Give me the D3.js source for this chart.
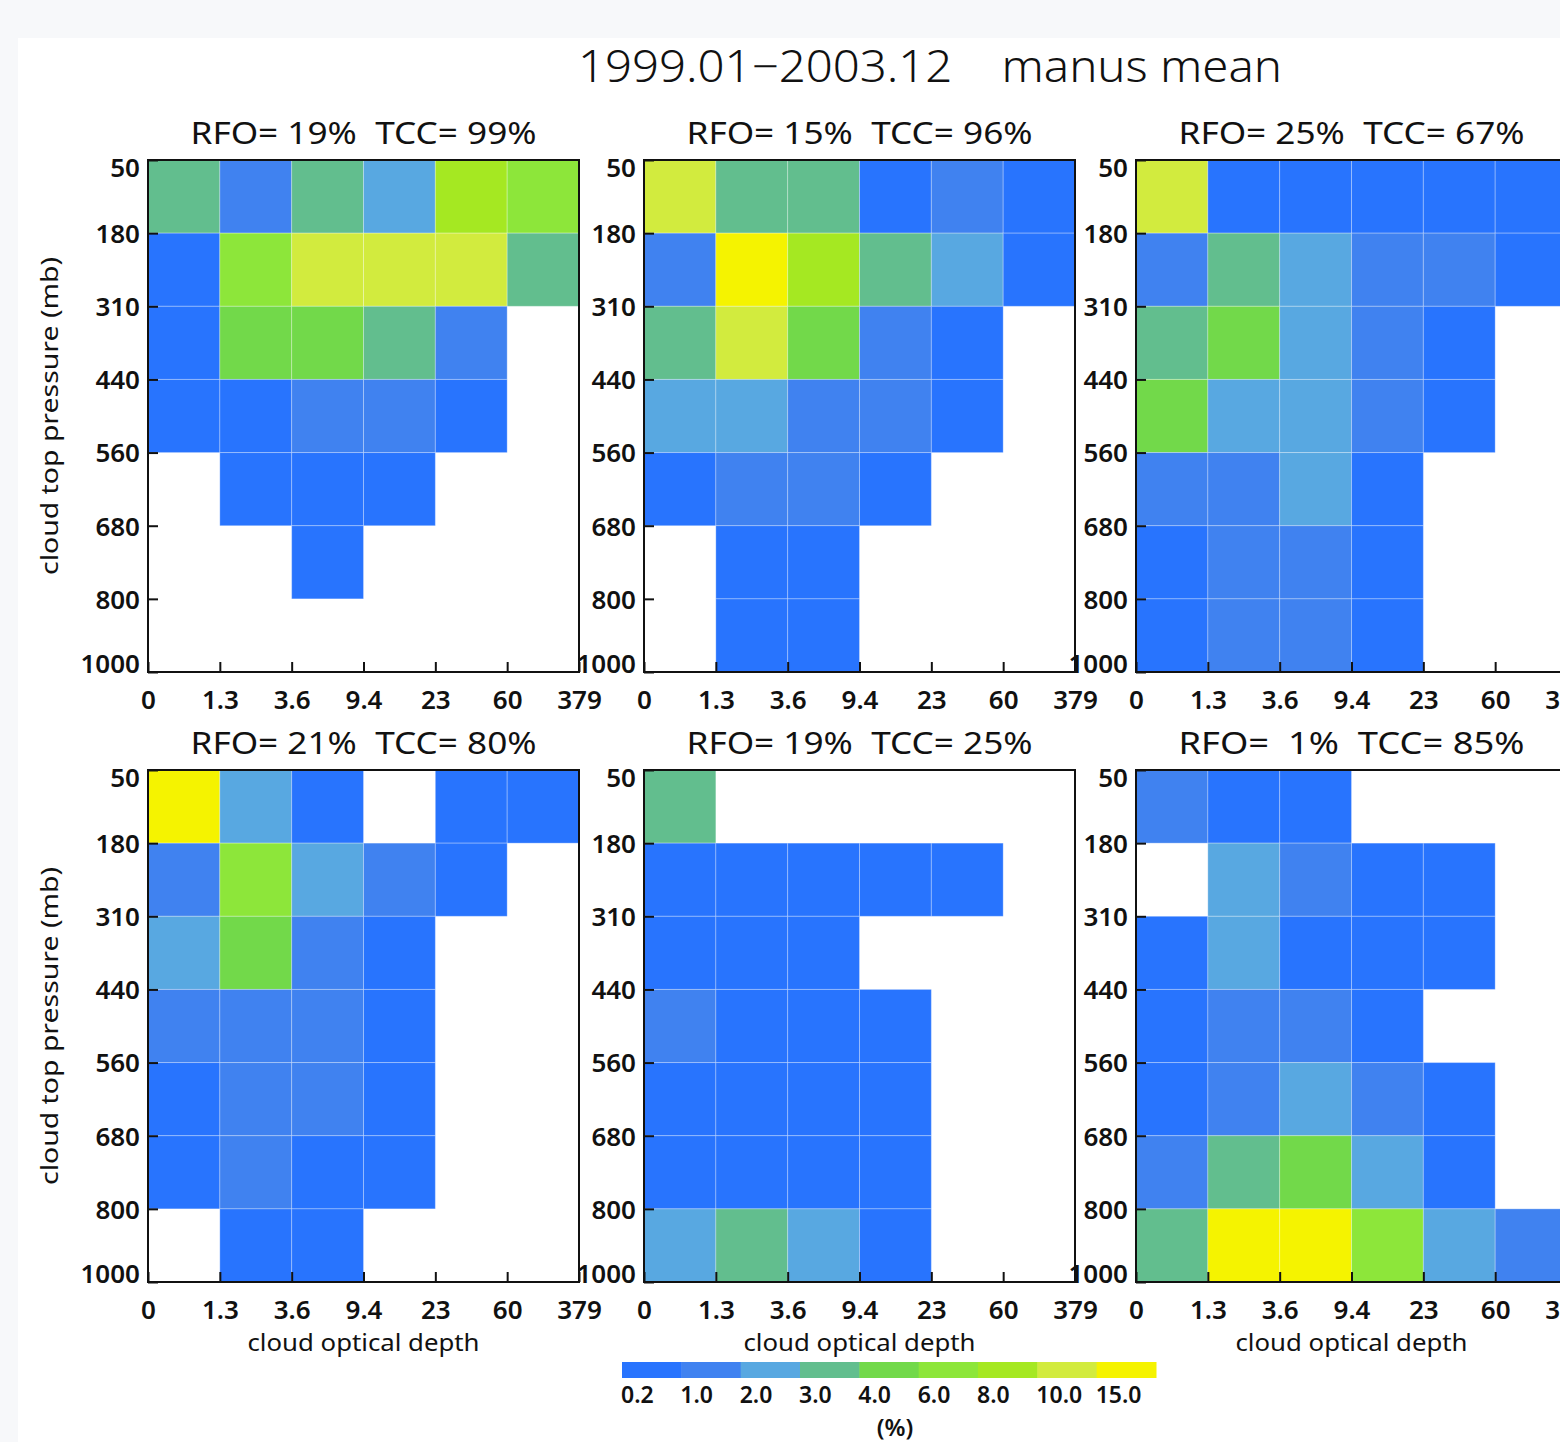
<!DOCTYPE html>
<html>
<head>
<meta charset="utf-8">
<script src="https://cdn.jsdelivr.net/npm/d3@7"></script>
<style>
  html, body { margin: 0; padding: 0; background: #f7f8fa; }
  svg { display: block; }
  text { font-family: "Noto Sans", "DejaVu Sans", sans-serif; fill: #111; white-space: pre; }
</style>
</head>
<body>
<svg id="chart" width="1560" height="1442"></svg>
<script>
// ---------------- data ----------------
const mainTitle = "1999.01\u22122003.12    manus mean";
const xTickLabels = ["0", "1.3", "3.6", "9.4", "23", "60", "379"];
const yTickLabels = ["50", "180", "310", "440", "560", "680", "800", "1000"];
const rfo = [19, 15, 25, 21, 19, 1];
const tcc = [99, 96, 67, 80, 25, 85];

// rows: 50-180, 180-310, 310-440, 440-560, 560-680, 680-800, 800-1000
// cols: 0-1.3, 1.3-3.6, 3.6-9.4, 9.4-23, 23-60, 60-379  (values in %)
const panel1 = [
  [3.4, 1.6, 3.5, 2.4, 9.1, 7.2],
  [0.7, 7.4, 12.5, 11.8, 11.2, 3.3],
  [0.6, 5.1, 5.4, 3.2, 1.3, null],
  [0.5, 0.8, 1.4, 1.2, 0.6, null],
  [null, 0.4, 0.6, 0.5, null, null],
  [null, null, 0.3, null, null, null],
  [null, null, null, null, null, null]
];
const panel2 = [
  [11.5, 3.6, 3.4, 0.8, 1.5, 0.6],
  [1.7, 17.2, 9.3, 3.5, 2.6, 0.5],
  [3.3, 12.1, 5.0, 1.6, 0.7, null],
  [2.4, 2.2, 1.5, 1.3, 0.6, null],
  [0.8, 1.2, 1.4, 0.5, null, null],
  [null, 0.6, 0.7, null, null, null],
  [null, 0.5, 0.4, null, null, null]
];
const panel3 = [
  [12.3, 0.7, 0.6, 0.5, 0.6, 0.4],
  [1.5, 3.4, 2.3, 1.4, 1.2, 0.5],
  [3.6, 5.3, 2.5, 1.3, 0.7, null],
  [4.8, 2.7, 2.6, 1.5, 0.8, null],
  [1.6, 1.3, 2.2, 0.6, null, null],
  [0.8, 1.4, 1.2, 0.5, null, null],
  [0.7, 1.3, 1.1, 0.4, null, null]
];
const panel4 = [
  [18.4, 2.5, 0.6, null, 0.4, 0.3],
  [1.4, 7.1, 2.4, 1.2, 0.5, null],
  [2.6, 4.9, 1.6, 0.8, null, null],
  [1.3, 1.5, 1.4, 0.7, null, null],
  [0.6, 1.2, 1.3, 0.5, null, null],
  [0.8, 1.1, 0.6, 0.4, null, null],
  [null, 0.5, 0.7, null, null, null]
];
const panel5 = [
  [3.2, null, null, null, null, null],
  [0.6, 0.5, 0.7, 0.4, 0.3, null],
  [0.8, 0.7, 0.6, null, null, null],
  [1.2, 0.8, 0.9, 0.5, null, null],
  [0.7, 0.9, 0.8, 0.6, null, null],
  [0.6, 0.8, 0.9, 0.5, null, null],
  [2.3, 3.5, 2.6, 0.7, null, null]
];
const panel6 = [
  [1.3, 0.6, 0.7, null, null, null],
  [null, 2.4, 1.2, 0.5, 0.4, null],
  [0.6, 2.2, 0.8, 0.7, 0.5, null],
  [0.8, 1.5, 1.4, 0.6, null, null],
  [0.7, 1.6, 2.7, 1.3, 0.4, null],
  [1.4, 3.5, 5.2, 2.4, 0.6, null],
  [3.7, 19.5, 20.3, 7.3, 2.5, 1.2]
];
const panels = [panel1, panel2, panel3, panel4, panel5, panel6];

const colorThresholds = [1, 2, 3, 4, 6, 8, 10, 15];
const colorBarLabels = ["0.2", "1.0", "2.0", "3.0", "4.0", "6.0", "8.0", "10.0", "15.0"];
const palette = ["#2874fe", "#4082f0", "#58a8e1", "#62be8e", "#72d94a", "#8de63a", "#a5e822", "#d2eb3e", "#f5f300"];

// ---------------- layout ----------------
const svg = d3.select("#chart");
const W = 1560, H = 1442;
const panelLefts = [148, 644, 1136];
const panelTops = [160, 770];
const PW = 431, PH = 512;
const labelFont = "'Open Sans', 'Noto Sans', sans-serif";

svg.append("rect").attr("x", 0).attr("y", 0).attr("width", W).attr("height", H).attr("fill", "#f7f8fa");
svg.append("rect").attr("x", 18).attr("y", 38).attr("width", W - 18).attr("height", H - 38).attr("fill", "#ffffff");

const color = d3.scaleThreshold().domain(colorThresholds).range(palette);

// Title
svg.append("text")
  .attr("x", 930).attr("y", 82)
  .attr("text-anchor", "middle")
  .attr("font-size", 44)
  .attr("font-weight", 300)
  .attr("textLength", 704).attr("lengthAdjust", "spacingAndGlyphs")
  .text(mainTitle);

panels.forEach((data, p) => {
  const col = p % 3, row = Math.floor(p / 3);
  const x0 = panelLefts[col], y0 = panelTops[row];
  const x = d3.scaleLinear().domain([0, 6]).range([x0, x0 + PW]);
  const y = d3.scaleLinear().domain([0, 7]).range([y0, y0 + PH]);
  const g = svg.append("g");

  const cells = [];
  data.forEach((r, i) => r.forEach((v, j) => { if (v !== null) cells.push({ i, j, v }); }));

  g.selectAll("rect.cell").data(cells).enter().append("rect")
    .attr("class", "cell")
    .attr("x", d => x(d.j)).attr("y", d => y(d.i))
    .attr("width", d => x(d.j + 1) - x(d.j))
    .attr("height", d => y(d.i + 1) - y(d.i))
    .attr("fill", d => color(d.v))
    .attr("stroke", "rgba(255,255,255,0.28)").attr("stroke-width", 1);

  // frame
  g.append("rect").attr("x", x0).attr("y", y0).attr("width", PW).attr("height", PH)
    .attr("fill", "none").attr("stroke", "#111").attr("stroke-width", 2);

  // x ticks (inward)
  const xAxis = d3.axisBottom(x).tickValues(d3.range(0, 7)).tickSize(-10)
    .tickFormat(i => xTickLabels[i]).tickPadding(18);
  const gx = g.append("g").attr("transform", `translate(0,${y0 + PH})`).call(xAxis);
  gx.select(".domain").remove();
  gx.selectAll(".tick line").attr("stroke", "#111").attr("stroke-width", 2);
  gx.selectAll(".tick text").attr("font-size", 26).attr("font-family", labelFont)
    .attr("fill", "#111").attr("font-weight", 600).attr("dy", "0.72em");

  // y ticks (inward)
  const yAxis = d3.axisLeft(y).tickValues(d3.range(0, 8)).tickSize(-10)
    .tickFormat(i => yTickLabels[i]).tickPadding(8);
  const gy = g.append("g").attr("transform", `translate(${x0},0)`).call(yAxis);
  gy.select(".domain").remove();
  gy.selectAll(".tick line").attr("stroke", "#111").attr("stroke-width", 2);
  gy.selectAll(".tick text").attr("font-size", 26).attr("font-family", labelFont)
    .attr("fill", "#111").attr("font-weight", 600)
    .attr("dy", (d, i) => i === 0 ? "0.62em" : (i === 7 ? "0.02em" : "0.36em"));

  // panel title
  const t = "RFO=" + String(rfo[p]).padStart(3, " ") + "%  TCC=" + String(tcc[p]).padStart(3, " ") + "%";
  g.append("text")
    .attr("x", x0 + PW / 2).attr("y", y0 - 16)
    .attr("text-anchor", "middle").attr("font-size", 30)
    .attr("textLength", 346).attr("lengthAdjust", "spacingAndGlyphs")
    .text(t);

  if (col === 0) {
    g.append("text")
      .attr("transform", `translate(58,${y0 + PH / 2}) rotate(-90)`)
      .attr("text-anchor", "middle").attr("font-size", 24)
      .attr("textLength", 318).attr("lengthAdjust", "spacingAndGlyphs")
      .text("cloud top pressure (mb)");
  }
  if (row === 1) {
    g.append("text")
      .attr("x", x0 + PW / 2).attr("y", 1351)
      .attr("text-anchor", "middle").attr("font-size", 24)
      .attr("textLength", 232).attr("lengthAdjust", "spacingAndGlyphs")
      .text("cloud optical depth");
  }
});

// Color bar
const cbX = d3.scaleLinear().domain([0, palette.length]).range([622, 1156]);
const cb = svg.append("g");
cb.selectAll("rect").data(palette).enter().append("rect")
  .attr("x", (d, i) => cbX(i)).attr("y", 1362)
  .attr("width", (d, i) => cbX(i + 1) - cbX(i) + 0.5).attr("height", 16)
  .attr("fill", d => d);
cb.selectAll("text.cbl").data(colorBarLabels).enter().append("text")
  .attr("class", "cbl")
  .attr("x", (d, i) => cbX(i) - 1).attr("y", 1403)
  .attr("font-size", 23).attr("font-family", labelFont).attr("font-weight", 600)
  .text(d => d);
svg.append("text").attr("x", 895).attr("y", 1436).attr("text-anchor", "middle")
  .attr("font-size", 24).attr("font-family", labelFont).attr("font-weight", 600).text("(%)");
</script>
</body>
</html>
